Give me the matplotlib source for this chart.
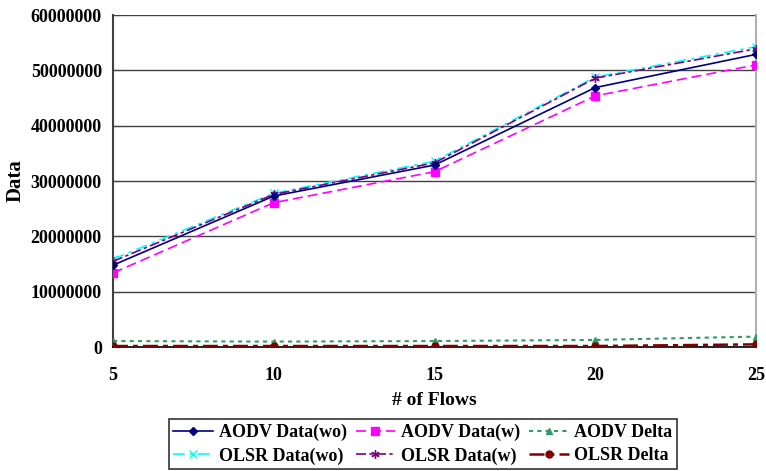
import matplotlib.pyplot as plt

flows = [5, 10, 15, 20, 25]

aodv_wo = [14.8e6, 27.3e6, 32.9e6, 46.9e6, 52.9e6]
aodv_w = [13.4e6, 26.1e6, 31.7e6, 45.4e6, 51.0e6]
aodv_delta = [1.1e6, 1.0e6, 1.1e6, 1.3e6, 1.9e6]
olsr_wo = [15.9e6, 27.8e6, 33.6e6, 48.8e6, 54.3e6]
olsr_w = [15.5e6, 27.6e6, 33.3e6, 48.6e6, 53.9e6]
olsr_delta = [0.2e6, 0.2e6, 0.2e6, 0.2e6, 0.5e6]

yticks = [0, 10000000, 20000000, 30000000, 40000000, 50000000, 60000000]

plt.rcParams['font.family'] = 'Liberation Serif'
plt.rcParams['font.weight'] = 'bold'

fig = plt.figure(figsize=(7.66, 4.71), dpi=100)
ax = fig.add_axes([0.1475, 0.263, 0.8395, 0.705])

l1, = ax.plot(flows, aodv_wo, color='#000080', ls='-', lw=1.2, marker='D', ms=4, label='AODV Data(wo)', zorder=5)
l2, = ax.plot(flows, aodv_w, color='#FF00FF', ls=(0, (6, 3)), lw=1.2, marker='s', ms=6, label='AODV Data(w)', zorder=4)
l3, = ax.plot(flows, aodv_delta, color='#339966', ls=(0, (2, 2)), lw=1.5, marker='^', ms=5, label='AODV Delta', zorder=4)
l4, = ax.plot(flows, olsr_wo, color='#00FFFF', ls=(0, (7, 3, 2, 3)), lw=1.2, marker='x', ms=6, label='OLSR Data(wo)', zorder=4)
l5, = ax.plot(flows, olsr_w, color='#800080', ls=(0, (6, 2, 2, 2)), lw=1.2, marker=(6, 2, 0), ms=6, label='OLSR Data(w)', zorder=4)
l6, = ax.plot(flows, olsr_delta, color='#800000', ls=(0, (6, 2, 2, 2)), lw=1.8, marker='o', ms=5, label='OLSR Delta', zorder=5)

ax.set_xlim(5, 25)
ax.set_ylim(0, 60000000)
ax.set_xticks(flows)
ax.set_yticks(yticks)
ax.set_yticklabels([str(v) for v in yticks])
ax.grid(axis='y', color='#404040', lw=1)
ax.set_axisbelow(True)

ax.spines['top'].set_visible(False)
ax.spines['right'].set_color('#b0b0b0')
ax.spines['right'].set_linewidth(1.5)
ax.spines['left'].set_color('#404040')
ax.spines['left'].set_linewidth(1.5)
ax.spines['bottom'].set_color('black')
ax.spines['bottom'].set_linewidth(1.2)

ax.tick_params(axis='y', direction='in', length=5, color='#404040', labelsize=13, pad=8)
ax.tick_params(axis='x', length=0, labelsize=13, pad=14)

ax.set_xlabel('# of Flows', fontsize=14, fontweight='bold', labelpad=6)
ax.set_ylabel('Data', fontsize=15, fontweight='bold', labelpad=4)

# legend fills column by column, so interleave to get AODV on the top row
handles = [l1, l4, l2, l5, l3, l6]
leg = fig.legend(handles=handles, loc='center', bbox_to_anchor=(0.552, 0.057), ncol=3, fontsize=13,
                 frameon=True, fancybox=False, edgecolor='black', handlelength=2.2,
                 columnspacing=0.5, handletextpad=0.3, borderpad=0.25, labelspacing=0.35)
leg.get_frame().set_linewidth(1.2)

fig.savefig('out.png', dpi=100)
